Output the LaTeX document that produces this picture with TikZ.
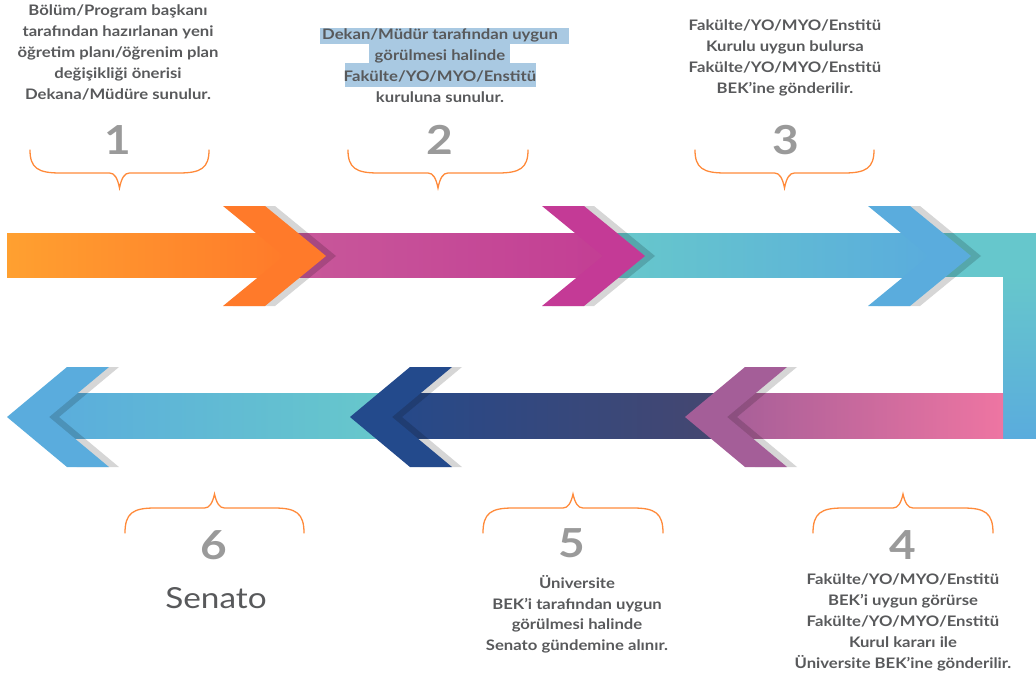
\documentclass[tikz,border=0pt]{standalone}
\usepackage{fontspec}
\setmainfont{Lato}[FakeStretch=1.15]
\usepackage{tikz}
\definecolor{OrA}{HTML}{FFA030}
\definecolor{OrB}{HTML}{FF7A2A}
\definecolor{MgA}{HTML}{C8589A}
\definecolor{MgB}{HTML}{C33E94}
\definecolor{MgC}{HTML}{C43A96}
\definecolor{TlA}{HTML}{67C8CB}
\definecolor{BlA}{HTML}{5AACDD}
\definecolor{PkA}{HTML}{EE75A2}
\definecolor{PuA}{HTML}{A45E98}
\definecolor{NvA}{HTML}{25498A}
\definecolor{NvB}{HTML}{454770}
\definecolor{NvC}{HTML}{234A8C}
\definecolor{BraceCol}{HTML}{FF8A3A}
\definecolor{TextCol}{HTML}{58595B}
\definecolor{NumCol}{HTML}{9A9A9A}
\definecolor{MarkCol}{HTML}{A9C9E2}
\tikzstyle{StepText}=[align=center,text=TextCol,inner sep=0pt,anchor=north,
font=\fontsize{14.5}{20.8}\selectfont\bfseries]
\tikzstyle{StepNum}=[text=NumCol,inner sep=0pt,font=\fontsize{40}{40}\selectfont\bfseries]
\tikzstyle{BraceLine}=[BraceCol,line width=1.3pt,line cap=round]
\tikzstyle{ChevShadow}=[black,opacity=.16]
% right pointing chevron: back top corner x, middle y, colour
\newcommand{\ChevRight}[3]{%
  \fill[ChevShadow,xshift=10pt](#1,#2-50)--(#1+42,#2-50)--(#1+103,#2)--(#1+42,#2+50)--(#1,#2+50)--(#1+61,#2)--cycle;
  \fill[#3](#1,#2-50)--(#1+42,#2-50)--(#1+103,#2)--(#1+42,#2+50)--(#1,#2+50)--(#1+61,#2)--cycle;}
% left pointing chevron: tip x, middle y, colour
\newcommand{\ChevLeft}[3]{%
  \fill[ChevShadow,xshift=10pt](#1,#2)--(#1+60,#2-50)--(#1+102,#2-50)--(#1+42,#2)--(#1+102,#2+50)--(#1+60,#2+50)--cycle;
  \fill[#3](#1,#2)--(#1+60,#2-50)--(#1+102,#2-50)--(#1+42,#2)--(#1+102,#2+50)--(#1+60,#2+50)--cycle;}

\begin{document}
\begin{tikzpicture}[x=1pt,y=-1pt]
        \useasboundingbox(0,0)rectangle(1036,680);
        % bands
        \fill[left color=OrA,right color=OrB](7,233)rectangle(290,277);
        \fill[left color=MgA,right color=MgB](290,233)rectangle(608,277);
        \fill[left color=TlA,right color=BlA](608,233)rectangle(935,277);
        \fill[TlA!95!BlA](935,233)rectangle(1036,277);
        \fill[top color=TlA!95!BlA,bottom color=BlA](1003,277)rectangle(1036,438);
        \fill[left color=PuA,right color=PkA](720,393)rectangle(1003,438);
        \fill[left color=NvA,right color=NvB](385,393)rectangle(720,438);
        \fill[left color=BlA,right color=TlA](40,393)rectangle(385,438);
        % chevrons
        \ChevRight{223}{256}{OrB}
        \ChevRight{542}{256}{MgC}
        \ChevRight{868}{256}{BlA}
        \ChevLeft{685}{417}{PuA}
        \ChevLeft{350}{417}{NvC}
        \ChevLeft{7}{417}{BlA}
        % braces
        \foreach \a/\b in {30/209,348/528,695/874}{
            \pgfmathsetmacro\m{(\a+\b)/2}
            \draw[BraceLine](\a,150)..controls(\a,168)and(\a+8,173)..(\a+30,173)--(\m-10,173)
                ..controls(\m-5,173)and(\m-2,178)..(\m,188)..controls(\m+2,178)and(\m+5,173)..(\m+10,173)
                --(\b-30,173)..controls(\b-8,173)and(\b,168)..(\b,150);
        }
        \foreach \a/\b in {125/304,483/663,813/993}{
            \pgfmathsetmacro\m{(\a+\b)/2}
            \draw[BraceLine](\a,533)..controls(\a,513)and(\a+8,508)..(\a+30,508)--(\m-10,508)
                ..controls(\m-5,508)and(\m-2,503)..(\m,494)..controls(\m+2,503)and(\m+5,508)..(\m+10,508)
                --(\b-30,508)..controls(\b-8,508)and(\b,513)..(\b,533);
        }
        % marked lines of step 2
        \fill[MarkCol](320,28)rectangle(569,44);
        \fill[MarkCol](369,44)rectangle(510,63);
        \fill[MarkCol](345,63)rectangle(536,87);
        % numbers
        \node[StepNum](n1)at(118,140){1};
        \node[StepNum](n2)at(440,140){2};
        \node[StepNum](n3)at(786,140){3};
        \node[StepNum](n4)at(903,545){4};
        \node[StepNum](n5)at(572,543){5};
        \node[StepNum](n6)at(214,545){6};
        % texts
        \node[StepText](s1)at(118,5){Bölüm/Program başkanı\\tarafından hazırlanan yeni\\öğretim planı/öğrenim plan\\değişikliği önerisi\\Dekana/Müdüre sunulur.};
        \node[StepText](s2)at(440,29){Dekan/Müdür tarafından uygun\\görülmesi halinde\\Fakülte/YO/MYO/Enstitü\\kuruluna sunulur.};
        \node[StepText](s3)at(785,20){Fakülte/YO/MYO/Enstitü\\Kurulu uygun bulursa\\Fakülte/YO/MYO/Enstitü\\BEK’ine gönderilir.};
        \node[StepText](s4)at(903,574){Fakülte/YO/MYO/Enstitü\\BEK’i uygun görürse\\Fakülte/YO/MYO/Enstitü\\Kurul kararı ile\\Üniversite BEK’ine gönderilir.};
        \node[StepText](s5)at(577,575){Üniversite\\BEK’i tarafından uygun\\görülmesi halinde\\Senato gündemine alınır.};
        \node[text=TextCol,inner sep=0pt,font=\fontsize{29}{29}\selectfont](s6)at(216,598){Senato};
    \end{tikzpicture}
\end{document}
